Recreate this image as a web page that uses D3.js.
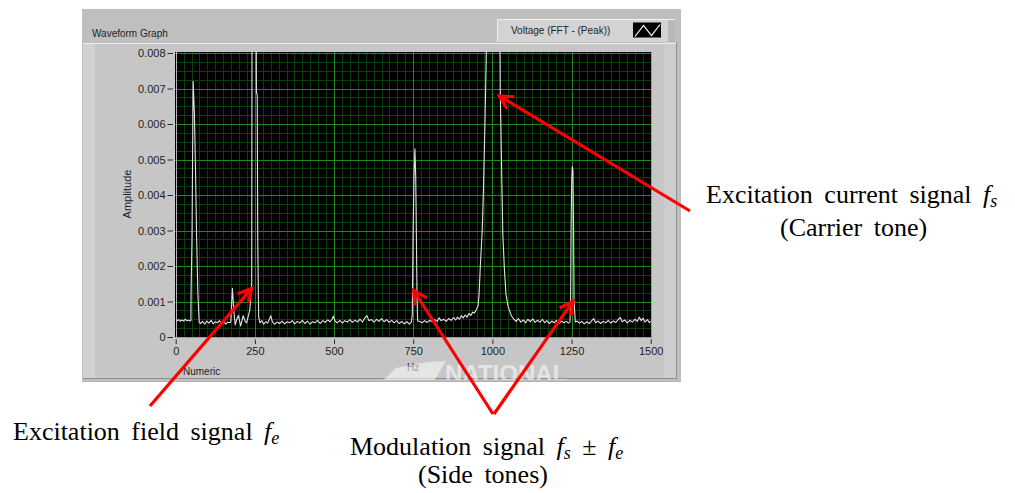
<!DOCTYPE html>
<html>
<head>
<meta charset="utf-8">
<script src="https://cdn.jsdelivr.net/npm/d3@7"></script>
<style>
  html, body { margin: 0; padding: 0; background: #ffffff; }
  svg { display: block; }
</style>
</head>
<body>
<svg id="chart" width="1015" height="493"></svg>
<script>
// Peak FFT spectrum of the measured voltage: frequency bins (Hz) and amplitudes (V).
const freqHz = [
  0, 5, 10, 15, 20, 25, 30, 35, 40, 45,
  48, 48.5, 51.5, 55, 59, 61, 63, 66, 70, 74,
  78, 85, 92, 98, 105, 112, 118, 125, 132, 138,
  145, 152, 158, 164, 170, 174,
  177, 179, 181, 184, 188, 193, 198, 205, 213, 219,
  224, 229, 234, 240,
  241.5, 252.5, 255, 257.5, 259, 262,
  266, 272, 278, 284, 290, 296, 300, 305, 312, 320,
  328, 336, 344, 352, 360, 368, 376, 384, 392, 400,
  408, 416, 424, 432, 440, 448, 456, 464, 472, 480,
  488, 494, 498, 503, 510, 518, 526, 534, 542, 550,
  558, 566, 574, 582, 590, 598, 604, 610, 618, 626,
  634, 642, 650, 658, 666, 674, 682, 690, 698, 706,
  714, 722, 730, 738, 744,
  747, 748, 749.5, 752.5, 755.5, 758, 760, 762, 764,
  770, 778, 786, 794, 802, 810, 818, 826, 832, 838,
  846, 854, 862, 870, 878, 884, 890, 896, 902, 908,
  914, 920, 926, 932, 938, 944, 950,
  955, 958, 962, 968, 972, 976, 979, 984, 990, 1003,
  1016, 1023, 1025, 1027, 1030, 1033, 1038, 1043, 1050, 1060,
  1068, 1075, 1082, 1090, 1098, 1105, 1112, 1120, 1128, 1135,
  1142, 1150, 1158, 1165, 1172, 1180, 1188, 1195, 1202, 1210,
  1218, 1226, 1234, 1240, 1245,
  1247, 1248.5, 1250.5, 1252.5, 1254.5, 1256.5, 1258, 1262,
  1268, 1275, 1282, 1290, 1298, 1306, 1314, 1320, 1326, 1334,
  1342, 1350, 1358, 1366, 1374, 1382, 1390, 1398, 1404, 1410,
  1418, 1426, 1434, 1442, 1450, 1458, 1464, 1470, 1476, 1482,
  1490, 1496, 1500
];
const amplitudeV = [
  0.00050, 0.00046, 0.00049, 0.00044, 0.00048, 0.00045, 0.00050, 0.00046, 0.00047, 0.00045,
  0.00046, 0.00124, 0.00280, 0.00720, 0.00630, 0.00540, 0.00450, 0.00280, 0.00124, 0.00042,
  0.00038, 0.00044, 0.00036, 0.00045, 0.00039, 0.00047, 0.00037, 0.00043, 0.00040, 0.00046,
  0.00038, 0.00044, 0.00036, 0.00042, 0.00040, 0.00043,
  0.00100, 0.00137, 0.00110, 0.00068, 0.00034, 0.00050, 0.00061, 0.00031, 0.00060, 0.00045,
  0.00040, 0.00058, 0.00076, 0.00150,
  0.01250, 0.01250, 0.00690, 0.00680, 0.00280, 0.00057,
  0.00040, 0.00046, 0.00036, 0.00043, 0.00039, 0.00050, 0.00060, 0.00044, 0.00036, 0.00042,
  0.00038, 0.00045, 0.00037, 0.00043, 0.00040, 0.00046, 0.00037, 0.00044, 0.00039, 0.00047,
  0.00038, 0.00045, 0.00036, 0.00043, 0.00040, 0.00047, 0.00038, 0.00046, 0.00041, 0.00048,
  0.00043, 0.00050, 0.00059, 0.00045, 0.00040, 0.00047, 0.00039, 0.00046, 0.00042, 0.00049,
  0.00041, 0.00047, 0.00043, 0.00050, 0.00042, 0.00055, 0.00060, 0.00046, 0.00049, 0.00042,
  0.00050, 0.00044, 0.00052, 0.00043, 0.00049, 0.00041, 0.00047, 0.00040, 0.00046, 0.00038,
  0.00044, 0.00037, 0.00043, 0.00036, 0.00042,
  0.00060, 0.00137, 0.00290, 0.00450, 0.00530, 0.00450, 0.00290, 0.00120, 0.00045,
  0.00044, 0.00040, 0.00046, 0.00041, 0.00047, 0.00043, 0.00049, 0.00044, 0.00054, 0.00046,
  0.00050, 0.00044, 0.00052, 0.00047, 0.00055, 0.00048, 0.00056, 0.00050, 0.00060, 0.00054,
  0.00062, 0.00056, 0.00066, 0.00061, 0.00070, 0.00068, 0.00078,
  0.00088, 0.00120, 0.00200, 0.00300, 0.00420, 0.00580, 0.00710, 0.00950, 0.01800, 0.03100,
  0.01800, 0.00950, 0.00680, 0.00590, 0.00430, 0.00290, 0.00190, 0.00120, 0.00085, 0.00060,
  0.00050, 0.00044, 0.00052, 0.00042, 0.00048, 0.00040, 0.00050, 0.00043, 0.00051, 0.00041,
  0.00047, 0.00042, 0.00050, 0.00040, 0.00046, 0.00038, 0.00045, 0.00040, 0.00047, 0.00038,
  0.00045, 0.00040, 0.00044, 0.00039, 0.00042,
  0.00100, 0.00300, 0.00440, 0.00480, 0.00470, 0.00290, 0.00100, 0.00042,
  0.00045, 0.00039, 0.00044, 0.00037, 0.00043, 0.00038, 0.00046, 0.00052, 0.00040, 0.00045,
  0.00038, 0.00044, 0.00040, 0.00047, 0.00039, 0.00045, 0.00041, 0.00050, 0.00055, 0.00043,
  0.00048, 0.00040, 0.00047, 0.00042, 0.00050, 0.00044, 0.00056, 0.00046, 0.00053, 0.00042,
  0.00049, 0.00040, 0.00045
];

// Axis ticks
const xTickValues = [0, 250, 500, 750, 1000, 1250, 1500];
const yTickValues = [0, 0.001, 0.002, 0.003, 0.004, 0.005, 0.006, 0.007, 0.008];

// Annotation arrows: tips sit on spectral features (Hz, V), tails near their captions (page px)
const arrowTips  = [[240, 0.00137], [1022.5, 0.00679], [751.6, 0.00131], [1254.6, 0.00101]];
const arrowTails = [[150, 406], [690, 211], [493, 414], [494, 414]];

const svg = d3.select("#chart");
const labelFont = "'Liberation Sans', Arial, sans-serif";
const serif = "'Liberation Serif', 'Times New Roman', serif";

// ---------- graph panel ----------
const panel = svg.append("g");
panel.append("rect").attr("x", 82).attr("y", 9).attr("width", 599).attr("height", 373).attr("fill", "#bfbfbf");
panel.append("rect").attr("x", 83).attr("y", 43).attr("width", 593).attr("height", 335).attr("fill", "#c6c6c6");
panel.append("rect").attr("x", 83).attr("y", 44).attr("width", 12).attr("height", 334).attr("fill", "#d2d2d2");
panel.append("rect").attr("x", 664).attr("y", 42).attr("width", 12).attr("height", 336).attr("fill", "#cdcdcd");
panel.append("line").attr("x1", 83).attr("x2", 676).attr("y1", 43.5).attr("y2", 43.5).attr("stroke", "#ececec");
panel.append("line").attr("x1", 676.5).attr("x2", 676.5).attr("y1", 42).attr("y2", 379).attr("stroke", "#8f8f8f");
panel.append("line").attr("x1", 83).attr("x2", 677).attr("y1", 378.5).attr("y2", 378.5).attr("stroke", "#8f8f8f");
panel.append("line").attr("x1", 82).attr("x2", 681).attr("y1", 381.5).attr("y2", 381.5).attr("stroke", "#b2b2b2");

panel.append("text").attr("x", 92).attr("y", 37).attr("font-family", labelFont).attr("font-size", 10)
  .attr("fill", "#1e1e1e").text("Waveform Graph");

// plot legend
const legend = svg.append("g");
legend.append("rect").attr("x", 497).attr("y", 19).attr("width", 178).attr("height", 23).attr("fill", "#d3d3d3");
legend.append("rect").attr("x", 668).attr("y", 19).attr("width", 7).attr("height", 23).attr("fill", "#b9b9b9");
legend.append("path").attr("d", "M497.5,42V19.5H675").attr("fill", "none").attr("stroke", "#f2f2f2");
legend.append("text").attr("x", 511).attr("y", 33.5).attr("font-family", labelFont).attr("font-size", 10)
  .attr("fill", "#1e1e1e").text("Voltage (FFT - (Peak))");
legend.append("rect").attr("x", 633).attr("y", 22.5).attr("width", 28).attr("height", 15).attr("fill", "#000");
legend.append("path").attr("d", "M635,36.5L643.5,25.5L651.5,35.5L660,24.5")
  .attr("fill", "none").attr("stroke", "#ffffff").attr("stroke-width", 1.2);

// ---------- scales ----------
const x = d3.scaleLinear().domain([0, 1500]).range([175.7, 650.7]);
const y = d3.scaleLinear().domain([0, 0.008]).range([337, 53]);

// plot area
svg.append("rect").attr("x", 175).attr("y", 52).attr("width", 477).attr("height", 286)
  .attr("fill", "#000000");

// grid: minor lines every 25 Hz / 0.00025 V, major every 250 Hz / 0.001 V
const grid = svg.append("g");
const minorX = d3.range(25, 1500, 25).filter(v => v % 250 !== 0);
const minorY = d3.range(1, 32).map(i => i * 0.00025).filter((v, i) => (i + 1) % 4 !== 0);
grid.selectAll("line.mx").data(minorX).join("line")
  .attr("x1", d => Math.round(x(d)) + 0.5).attr("x2", d => Math.round(x(d)) + 0.5)
  .attr("y1", 52).attr("y2", 338).attr("stroke", "#0a400a");
grid.selectAll("line.my").data(minorY).join("line")
  .attr("y1", d => Math.round(y(d)) + 0.5).attr("y2", d => Math.round(y(d)) + 0.5)
  .attr("x1", 175).attr("x2", 652).attr("stroke", "#0a400a");
grid.selectAll("line.Mx").data(xTickValues.slice(1, -1)).join("line")
  .attr("x1", d => Math.round(x(d)) + 0.5).attr("x2", d => Math.round(x(d)) + 0.5)
  .attr("y1", 52).attr("y2", 338).attr("stroke", "#1d8a1d");
grid.selectAll("line.My").data(yTickValues.slice(1)).join("line")
  .attr("y1", d => Math.round(y(d)) + 0.5).attr("y2", d => Math.round(y(d)) + 0.5)
  .attr("x1", 175).attr("x2", 652).attr("stroke", "#1d8a1d");

// plot border: light left edge, shaded right and bottom edges
svg.append("line").attr("x1", 176.5).attr("x2", 176.5).attr("y1", 52).attr("y2", 338).attr("stroke", "#b4b4b4");
svg.append("path").attr("d", "M651.5,52V337.5H175").attr("fill", "none").attr("stroke", "#9c9c9c");

// ---------- spectrum trace ----------
svg.append("clipPath").attr("id", "plotClip").append("rect")
  .attr("x", 176).attr("y", 52).attr("width", 476).attr("height", 286);

const points = freqHz.map((f, i) => [f, amplitudeV[i]]);
const line = d3.line().x(d => x(d[0])).y(d => y(d[1]));
svg.append("path").datum(points).attr("clip-path", "url(#plotClip)")
  .attr("d", line).attr("fill", "none").attr("stroke", "#e2e2e2").attr("stroke-width", 1.1)
  .attr("stroke-linejoin", "round");

// ---------- axes ----------
const yAxis = d3.axisLeft(y).tickValues(yTickValues).tickSize(5.5).tickPadding(2)
  .tickFormat(d => d === 0 ? "0" : d3.format(".3f")(d));
const gy = svg.append("g").attr("transform", "translate(173,0)").call(yAxis);
const xAxis = d3.axisBottom(x).tickValues(xTickValues).tickSize(4.5).tickPadding(3).tickFormat(d3.format("d"));
const gx = svg.append("g").attr("transform", "translate(0,339.5)").call(xAxis);
[gx, gy].forEach(g => {
  g.select(".domain").remove();
  g.selectAll(".tick line").attr("stroke", "#2a2a2a");
  g.selectAll(".tick text").attr("fill", "#1e1e1e").attr("font-family", labelFont).attr("font-size", 11);
});

svg.append("text").attr("transform", "translate(131,194) rotate(-90)").attr("text-anchor", "middle")
  .attr("font-family", labelFont).attr("font-size", 11).attr("fill", "#1e1e1e").text("Amplitude");
svg.append("text").attr("x", 407).attr("y", 371).attr("font-family", labelFont).attr("font-size", 10)
  .attr("fill", "#1e1e1e").text("Hz");
svg.append("text").attr("x", 183).attr("y", 375).attr("font-family", labelFont).attr("font-size", 10)
  .attr("fill", "#1e1e1e").text("Numeric");

// faint maker watermark at the bottom of the panel
svg.append("clipPath").attr("id", "panelClip").append("rect")
  .attr("x", 82).attr("y", 9).attr("width", 599).attr("height", 371);
const wm = svg.append("g").attr("clip-path", "url(#panelClip)").attr("opacity", 0.55);
wm.append("path").attr("d", "M382,381L396,368L428,362L446,361L434,381Z").attr("fill", "#ffffff");
wm.append("text").attr("x", 445).attr("y", 382).attr("font-family", labelFont).attr("font-weight", "bold")
  .attr("font-size", 24).attr("fill", "#ffffff").text("NATIONAL");

// ---------- annotation arrows ----------
const arrows = svg.append("g").attr("fill", "none").attr("stroke", "#ff0000")
  .attr("stroke-width", 3.2).attr("stroke-linejoin", "miter");
arrowTips.forEach((t, i) => {
  const tx = x(t[0]), ty = y(t[1]);
  const [sx, sy] = arrowTails[i];
  const ang = Math.atan2(sy - ty, sx - tx), spread = 28 * Math.PI / 180, len = 15;
  const a1 = [tx + len * Math.cos(ang - spread), ty + len * Math.sin(ang - spread)];
  const a2 = [tx + len * Math.cos(ang + spread), ty + len * Math.sin(ang + spread)];
  arrows.append("path").attr("d", `M${sx},${sy}L${tx},${ty}M${a1[0]},${a1[1]}L${tx},${ty}L${a2[0]},${a2[1]}`);
});

// ---------- captions ----------
function caption(xp, yp, parts) {
  const t = svg.append("text").attr("x", xp).attr("y", yp).attr("font-family", serif)
    .attr("font-size", 26).attr("fill", "#000").attr("word-spacing", 5);
  parts.forEach(p => {
    const s = t.append("tspan").text(p.text);
    if (p.italic) s.attr("font-style", "italic");
    if (p.sub) s.attr("font-size", 18).attr("dy", 4);
    if (p.up) s.attr("dy", -4);
  });
}
caption(13, 440, [
  { text: "Excitation field signal " }, { text: "f", italic: true }, { text: "e", italic: true, sub: true }
]);
caption(706, 203, [
  { text: "Excitation current signal " }, { text: "f", italic: true }, { text: "s", italic: true, sub: true }
]);
caption(780, 236, [{ text: "(Carrier tone)" }]);
caption(350, 455, [
  { text: "Modulation signal " }, { text: "f", italic: true }, { text: "s", italic: true, sub: true },
  { text: " ± ", up: true }, { text: "f", italic: true }, { text: "e", italic: true, sub: true }
]);
caption(418, 483, [{ text: "(Side tones)" }]);
</script>
</body>
</html>
